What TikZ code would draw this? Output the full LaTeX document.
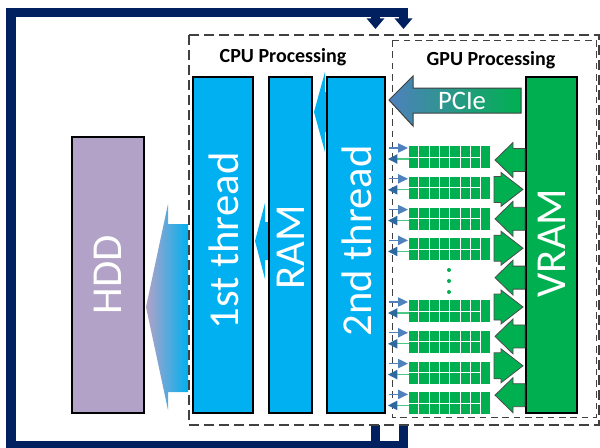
\documentclass[tikz,border=0pt]{standalone}
\usepackage{fontspec}
\setmainfont{Carlito}
\usepackage{tikz}
\usetikzlibrary{arrows.meta}

\definecolor{framenavy}{RGB}{0,32,96}
\definecolor{cpucyan}{RGB}{0,176,240}
\definecolor{vramgreen}{RGB}{0,176,80}
\definecolor{hddpurple}{RGB}{178,162,199}
\definecolor{pcblue}{RGB}{79,129,189}
\definecolor{headblue}{RGB}{46,104,160}
\definecolor{dashgray}{RGB}{64,64,64}

\tikzset{
  loopline/.style={draw=framenavy, line width=7.1pt, -{Triangle[width=13pt,length=8pt]}},
  cpuframe/.style={draw=dashgray, line width=1.5pt, dash pattern=on 7.5pt off 3.75pt},
  gpuframe/.style={draw=dashgray, line width=0.75pt, dash pattern=on 5pt off 3.5pt},
  cpublock/.style={fill=cpucyan, draw=black, line width=0.8pt},
  hddblock/.style={fill=hddpurple, draw=black, line width=0.8pt},
  vramblock/.style={fill=vramgreen, draw=black, line width=0.8pt},
  blocklabel/.style={text=white, rotate=90, inner sep=0.75pt, font=\fontsize{32}{38}\selectfont},
  titlelabel/.style={inner sep=0.75pt, font=\fontsize{15}{18}\selectfont\bfseries},
  warparrow/.style={fill=vramgreen, draw=black!70, line width=0.6pt},
  sendline/.style={draw=pcblue, line width=0.9pt, -{Triangle[length=7.5pt,width=7pt]}},
  backline/.style={draw=vramgreen!70, line width=0.9pt, -{Triangle[length=7pt,width=7pt,color=headblue]}}
}

\begin{document}
\begin{tikzpicture}[x=0.75pt,y=0.75pt,yscale=-1,xscale=1]
\useasboundingbox (0,0) rectangle (600,447);
\clip (0,0) rectangle (600,447);

%Feedback loop (navy)
\coordinate (cpuout) at (375.5,425);
\coordinate (gpuout) at (403.5,425);
\coordinate (cpuin) at (375.5,29);
\coordinate (gpuin) at (403.5,29);
\draw [loopline] (cpuout) -- (375.5,446) -- (11,446) -- (11,12.5) -- (375.5,12.5) -- (cpuin);
\draw [loopline] (gpuout) -- (403.5,446) -- (11,446) -- (11,12.5) -- (403.5,12.5) -- (gpuin);

%Shape: Left Arrow (to HDD)
\shade [left color=hddpurple, right color=cpucyan] (146,307) -- (168,204) -- (168,224) -- (188,224) -- (188,392) -- (168,392) -- (168,410) -- cycle;
%Shape: Left Arrow (2nd thread to RAM)
\fill [cpucyan] (314,112) -- (325,72) -- (325,92) -- (335,92) -- (335,132) -- (325,132) -- (325,152) -- cycle;
%Shape: Left Arrow (RAM to 1st thread)
\fill [cpucyan] (255,241) -- (265,203) -- (265,222) -- (275,222) -- (275,260) -- (265,260) -- (265,279) -- cycle;

%Dashed frames
\draw [cpuframe] (189,35) rectangle (599.2,425);
\draw [gpuframe] (392,40) rectangle (596.5,417);

%Shape: Rectangle
\draw [hddblock] (72,137) rectangle (144,413);
\draw [cpublock] (193,77) rectangle (253,413);
\draw [cpublock] (269,77) rectangle (312,413);
\draw [cpublock] (327,77) rectangle (385,413);
\draw [vramblock] (526,77) rectangle (577,413);

%Right Arrow (PCIe)
\draw [left color=pcblue, right color=vramgreen, draw=black!75, line width=0.75pt] (389,100) -- (413,76) -- (413,88) -- (521,88) -- (521,113) -- (413,113) -- (413,126) -- cycle;

%Warps
\foreach \t in {146,176.8,207.6,238.4,300,330.8,361.6,392.4}{
  \foreach \c in {0,...,6}{
    \fill [vramgreen] (409+10.3*\c,\t) rectangle ++(9.3,10.5);
    \fill [vramgreen] (409+10.3*\c,\t+11.5) rectangle ++(9.3,10.5);
  }
  \fill [vramgreen] (481.1,\t) rectangle ++(9,22);
  \draw [sendline] (389,\t+2) -- (408,\t+2);
  \draw [backline] (409,\t+13) -- (388,\t+13);
}
\foreach \y in {270,281,292}{
  \fill [vramgreen] (449,\y) circle (2);
}

%Arrows VRAM <-> warps
\foreach \yc in {160,218.8,277.6,336.4,395.2}{
  \draw [warparrow] (495,\yc) -- (513,\yc-17.5) -- (513,\yc-11.5) -- (525,\yc-11.5) -- (525,\yc+11.5) -- (513,\yc+11.5) -- (513,\yc+17.5) -- cycle;
}
\foreach \yc in {189.4,248.2,307,365.8}{
  \draw [warparrow] (494,\yc-13) -- (501,\yc-13) -- (501,\yc-17) -- (523,\yc) -- (501,\yc+17) -- (501,\yc+13) -- (494,\yc+13) -- cycle;
}

% Text Node
\node [blocklabel] (hddlbl) at (108,275) {HDD};
\node [blocklabel] (th1lbl) at (224,241) {1st thread};
\node [blocklabel] (ramlbl) at (291,247) {RAM};
\node [blocklabel] (th2lbl) at (357,241) {2nd thread};
\node [blocklabel] (vramlbl) at (552,243) {VRAM};
\node [text=white, inner sep=0.75pt, font=\fontsize{20}{24}\selectfont] (pcielbl) at (462,101) {PCIe};
\node [titlelabel] (cpulbl) at (283,57) {CPU Processing};
\node [titlelabel] (gpulbl) at (491,60) {GPU Processing};
\end{tikzpicture}
\end{document}
